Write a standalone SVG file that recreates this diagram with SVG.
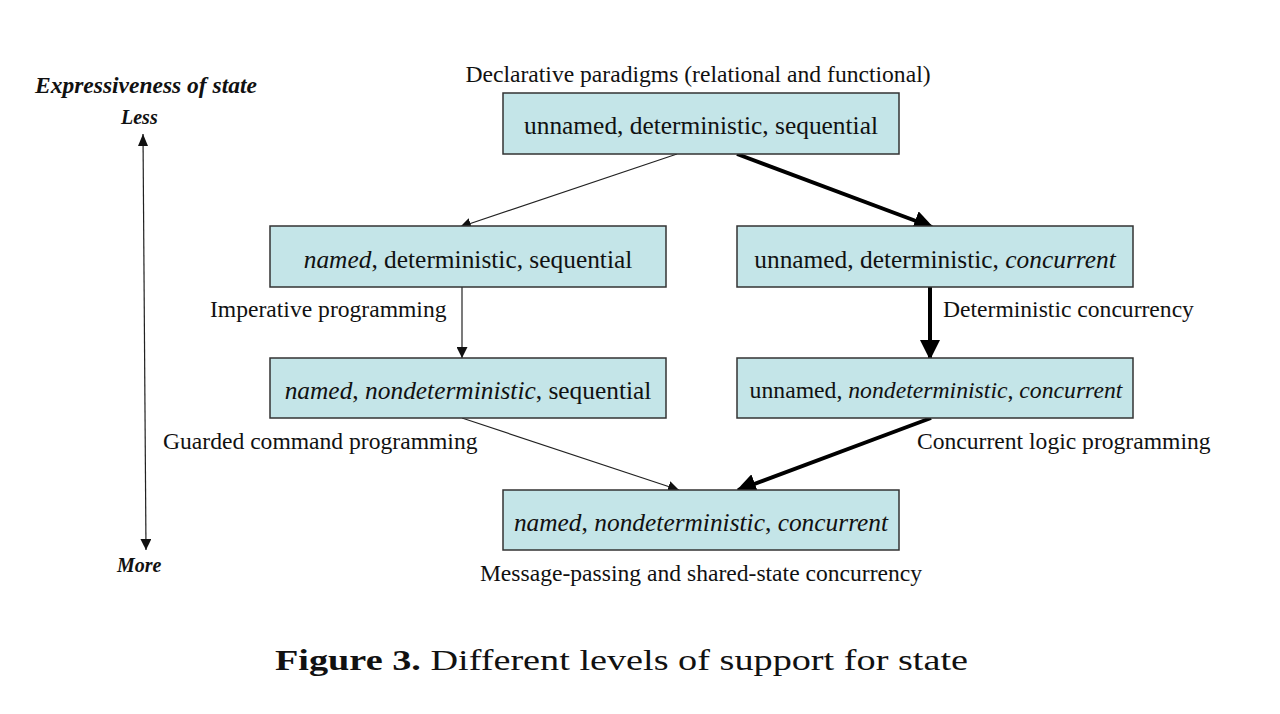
<svg xmlns="http://www.w3.org/2000/svg" width="1280" height="714" viewBox="0 0 1280 714">
<defs>
<style>
text{font-family:"Liberation Serif","Times New Roman",serif;fill:#111}
.box{fill:#c4e5e8;stroke:#333;stroke-width:1.5}
.bt{font-size:25.4px;text-anchor:middle}
.lbl{font-size:23.6px}
.ax{font-weight:bold;font-style:italic}
.thin{stroke:#222;stroke-width:1.2;fill:none}
.thick{stroke:#000;stroke-width:4;fill:none}
</style>
<marker id="ah" viewBox="0 0 10 10" refX="10" refY="5" markerWidth="11" markerHeight="11" markerUnits="userSpaceOnUse" orient="auto"><path d="M0,0L10,5L0,10z" fill="#111"/></marker>
<marker id="ahb" viewBox="0 0 10 10" refX="9" refY="5" markerWidth="5" markerHeight="5" orient="auto"><path d="M0,0L10,5L0,10z" fill="#000"/></marker>
</defs>
<rect width="1280" height="714" fill="#fff"/>

<g id="axis">
<line x1="143" y1="134" x2="146" y2="550" class="thin" marker-end="url(#ah)"/>
<path d="M143,134 L138,146 L148,146 z" fill="#111"/>
<text x="35" y="93" class="ax" font-size="23.5">Expressiveness of state</text>
<text x="121" y="124" class="ax" font-size="20">Less</text>
<text x="117" y="572" class="ax" font-size="20">More</text>
</g>

<g id="connectors">
<line x1="677" y1="154" x2="460" y2="227" class="thin" marker-end="url(#ah)"/>
<line x1="737" y1="154" x2="932" y2="227" class="thick" marker-end="url(#ahb)"/>
<line x1="462" y1="287" x2="462" y2="358" class="thin" marker-end="url(#ah)"/>
<line x1="930" y1="287" x2="930" y2="358" class="thick" marker-end="url(#ahb)"/>
<line x1="462" y1="418" x2="679" y2="490" class="thin" marker-end="url(#ah)"/>
<line x1="931" y1="418" x2="738" y2="490" class="thick" marker-end="url(#ahb)"/>
</g>

<g id="n1">
<text x="698" y="82" class="lbl" text-anchor="middle">Declarative paradigms (relational and functional)</text>
<rect x="503" y="93" width="396" height="61" class="box"/>
<text x="701" y="134" class="bt">unnamed, deterministic, sequential</text>
</g>
<g id="n2">
<rect x="270" y="226" width="396" height="61" class="box"/>
<text x="468" y="268" class="bt"><tspan font-style="italic">named</tspan>, deterministic, sequential</text>
<text x="210" y="317" class="lbl">Imperative programming</text>
</g>
<g id="n3">
<rect x="737" y="226" width="396" height="61" class="box"/>
<text x="935" y="268" class="bt">unnamed, deterministic, <tspan font-style="italic">concurrent</tspan></text>
<text x="943" y="317" class="lbl">Deterministic concurrency</text>
</g>
<g id="n4">
<rect x="270" y="358" width="396" height="60" class="box"/>
<text x="468" y="399" class="bt"><tspan font-style="italic">named</tspan>, <tspan font-style="italic">nondeterministic</tspan>, sequential</text>
<text x="163" y="449" class="lbl">Guarded command programming</text>
</g>
<g id="n5">
<rect x="737" y="358" width="396" height="60" class="box"/>
<text x="936" y="398" class="bt" style="font-size:23.7px">unnamed, <tspan font-style="italic">nondeterministic</tspan>, <tspan font-style="italic">concurrent</tspan></text>
<text x="917" y="449" class="lbl">Concurrent logic programming</text>
</g>
<g id="n6">
<rect x="503" y="490" width="396" height="60" class="box"/>
<text x="701" y="531" class="bt"><tspan font-style="italic">named</tspan>, <tspan font-style="italic">nondeterministic</tspan>, <tspan font-style="italic">concurrent</tspan></text>
<text x="701" y="581" class="lbl" text-anchor="middle">Message-passing and shared-state concurrency</text>
</g>

<g id="caption">
<text x="275" y="670" font-size="29" font-family="'DejaVu Serif','Liberation Serif',serif" textLength="693" lengthAdjust="spacingAndGlyphs"><tspan font-weight="bold">Figure 3.</tspan> Different levels of support for state</text>
</g>
</svg>
